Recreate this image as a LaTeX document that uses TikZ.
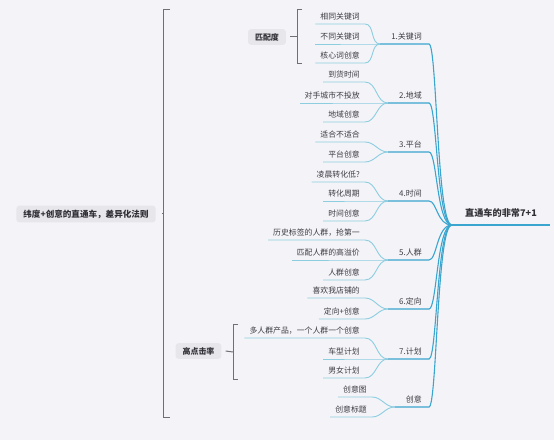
\documentclass[tikz,border=0pt]{standalone}
\usepackage{fontspec}
\setmainfont{Noto Sans CJK SC}
\definecolor{bg}{HTML}{F4F4F8}
\definecolor{bline}{HTML}{3AA5CF}
\definecolor{lline}{HTML}{8CCDE0}
\definecolor{txt}{HTML}{3C3C44}
\definecolor{boxfill}{HTML}{E6E6EB}
\definecolor{brk}{HTML}{707074}
\tikzset{
  leaf/.style={anchor=south east, inner xsep=5bp, inner ysep=3bp, text height=6.5bp, text depth=1.5bp, font=\fontsize{7.9}{9}\selectfont, text=txt},
  branch/.style={anchor=south east, inner xsep=7bp, inner ysep=3bp, text height=6.5bp, text depth=1.5bp, font=\fontsize{8}{9}\selectfont, text=txt},
  rootnode/.style={anchor=south, minimum width=98bp, inner xsep=0bp, inner ysep=6.5bp, text height=7bp, text depth=2bp, font=\bfseries\fontsize{9.2}{11}\selectfont, text=txt!80!black},
  leafline/.style={draw=lline, line width=0.9bp},
  branchline/.style={draw=bline, line width=1.1bp},
  tag/.style={fill=boxfill, rounded corners=3bp, font=\bfseries\fontsize{8}{9}\selectfont, text=txt!80!black, inner xsep=7bp, inner ysep=4bp},
  bracket/.style={draw=brk, line width=1bp}
}
\begin{document}
\begin{tikzpicture}[x=1bp,y=-1bp]
\useasboundingbox (0,0) rectangle (554,440);
\fill[bg] (0,0) rectangle (554,440);

% root
\node[rootnode] (root) at (501,225) {直通车的非常7+1};

% branches
\node[branch] (b1) at (429,44) {1.关键词};
\node[branch] (b2) at (429,103) {2.地域};
\node[branch] (b3) at (429,152) {3.平台};
\node[branch] (b4) at (429,201) {4.时间};
\node[branch] (b5) at (429,260) {5.人群};
\node[branch] (b6) at (429,309) {6.定向};
\node[branch] (b7) at (429,359) {7.计划};
\node[branch] (b8) at (429,407) {创意};
\foreach \i in {1,...,8} {\coordinate (j\i) at ([xshift=-4bp]b\i.south west);}

% leaves
\node[leaf] (l11) at (365,24) {相同关键词};
\node[leaf] (l12) at (365,44) {不同关键词};
\node[leaf] (l13) at (365,63) {核心词创意};
\node[leaf] (l21) at (365,82) {到货时间};
\node[leaf] (l22) at (365,103) {对手城市不投放};
\node[leaf] (l23) at (365,122) {地域创意};
\node[leaf] (l31) at (365,142) {适合不适合};
\node[leaf] (l32) at (365,162) {平台创意};
\node[leaf] (l41) at (365,182) {凌晨转化低?};
\node[leaf] (l42) at (365,201) {转化周期};
\node[leaf] (l43) at (365,221) {时间创意};
\node[leaf] (l51) at (365,240) {历史标签的人群，抢第一};
\node[leaf] (l52) at (365,260) {匹配人群的高溢价};
\node[leaf] (l53) at (365,280) {人群创意};
\node[leaf] (l61) at (365,298) {喜欢我店铺的};
\node[leaf] (l62) at (365,319) {定向+创意};
\node[leaf] (l71) at (365,338) {多人群产品，一个人群一个创意};
\node[leaf] (l72) at (365,359) {车型计划};
\node[leaf] (l73) at (365,378) {男女计划};
\node[leaf] (l81) at (372,397) {创意图};
\node[leaf] (l82) at (372,417) {创意标题};

% leaf connectors
\foreach \l/\j in {l11/j1,l12/j1,l13/j1,l21/j2,l22/j2,l23/j2,l31/j3,l32/j3,l41/j4,l42/j4,l43/j4,l51/j5,l52/j5,l53/j5,l61/j6,l62/j6,l71/j7,l72/j7,l73/j7,l81/j8,l82/j8}
  {\draw[leafline] (\l.south west) -- (\l.south east) to[out=0,in=180] (\j);}

% branch connectors
\foreach \i in {1,...,8}
  {\draw[branchline] (j\i) -- (b\i.south east) .. controls +(8,0) and +(-15,0) .. (root.south west);}
\draw[branchline] (root.south west) -- (root.south east);

% left side
\node[tag, font=\bfseries\fontsize{8.6}{10}\selectfont] (L) at (86,214) {纬度+创意的直通车，差异化法则};
\node[tag] (pp) at (267,37) {匹配度};
\node[tag] (gd) at (198.5,351) {高点击率};
\coordinate (bigb) at (163,214);
\coordinate (ppb) at (297,37);
\coordinate (gdb) at (233,352);
\draw[bracket] (170,10) -- (163,10) -- (163,417) -- (170,417);
\draw[bracket] ([xshift=6bp]L.east) -- (bigb);
\draw[bracket] (302,10) -- (297,10) -- (297,64) -- (302,64);
\draw[bracket] ([xshift=4bp]pp.east) -- (ppb);
\draw[bracket] (238,324) -- (233,324) -- (233,379) -- (238,379);
\draw[bracket] ([xshift=4bp]gd.east) -- (gdb);
\end{tikzpicture}
\end{document}
